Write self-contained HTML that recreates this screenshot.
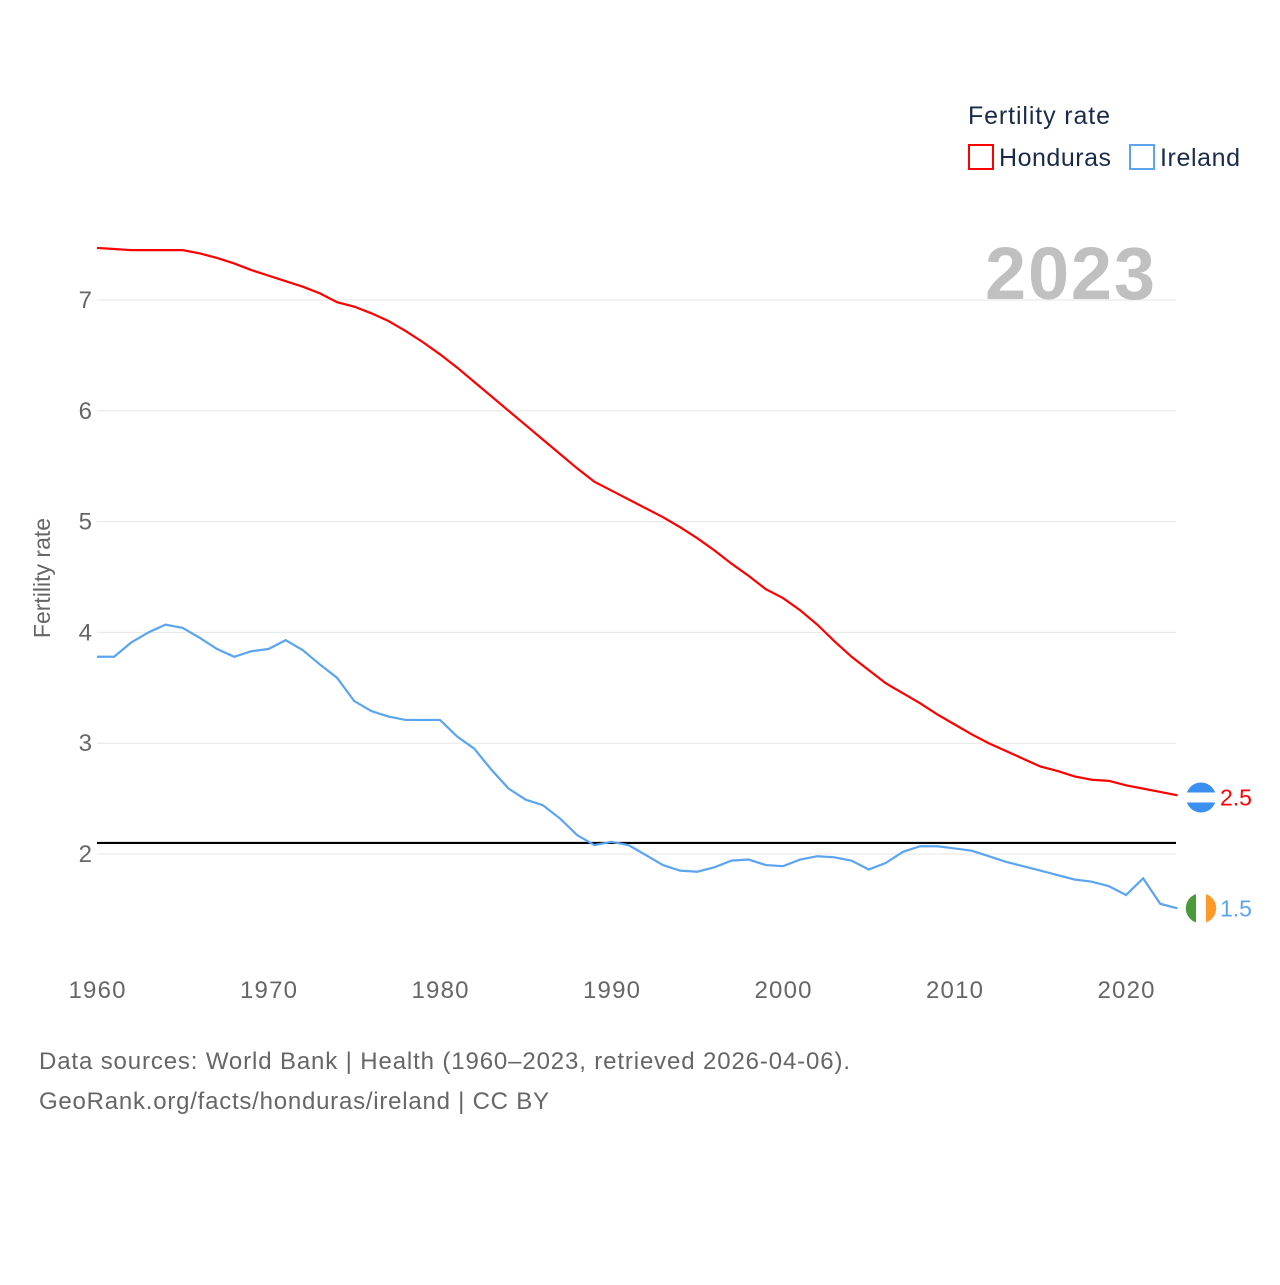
<!DOCTYPE html>
<html><head><meta charset="utf-8"><style>
body{margin:0;background:#fff;width:1280px;height:1280px;overflow:hidden;font-family:"Liberation Sans",sans-serif}
</style></head><body>
<svg id="chart" width="1280" height="1280" xmlns="http://www.w3.org/2000/svg" font-family="Liberation Sans, sans-serif">
<g id="grid"></g>
<g id="yticks"></g>
<g id="xticks"></g>
<text x="1155" y="299" text-anchor="end" font-size="74" font-weight="bold" fill="#c0c0c0" textLength="170">2023</text>
<text transform="translate(50,578) rotate(-90)" text-anchor="middle" font-size="23" fill="#666">Fertility rate</text>
<g id="series"></g>
<text x="968" y="124" font-size="25" fill="#1a2b4a" textLength="142">Fertility rate</text>
<g><rect x="969" y="145" width="24" height="24" fill="none" stroke="#f00" stroke-width="2"/><text x="999" y="166" font-size="25" fill="#1a2b4a" textLength="112">Honduras</text></g>
<g><rect x="1130" y="145" width="24" height="24" fill="none" stroke="#5ba4f0" stroke-width="2"/><text x="1160" y="166" font-size="25" fill="#1a2b4a" textLength="80">Ireland</text></g>
<text x="39" y="1069" font-size="24" fill="#666" textLength="811">Data sources: World Bank | Health (1960–2023, retrieved 2026-04-06).</text>
<text x="39" y="1109" font-size="24" fill="#666" textLength="510">GeoRank.org/facts/honduras/ireland | CC BY</text>
</svg>
<script>
const years=[];for(let y=1960;y<=2023;y++)years.push(y);
const honduras=[7.47,7.46,7.45,7.45,7.45,7.45,7.42,7.38,7.33,7.27,7.22,7.17,7.12,7.06,6.98,6.94,6.88,6.81,6.72,6.62,6.51,6.39,6.26,6.13,6.00,5.87,5.74,5.61,5.48,5.36,5.28,5.20,5.12,5.04,4.95,4.85,4.74,4.62,4.51,4.39,4.31,4.20,4.07,3.92,3.78,3.66,3.54,3.45,3.36,3.26,3.17,3.08,3.00,2.93,2.86,2.79,2.75,2.70,2.67,2.66,2.62,2.59,2.56,2.53,2.51];
const ireland=[3.78,3.78,3.91,4.00,4.07,4.04,3.95,3.85,3.78,3.83,3.85,3.93,3.84,3.71,3.59,3.38,3.29,3.24,3.21,3.21,3.21,3.06,2.95,2.76,2.59,2.49,2.44,2.32,2.17,2.08,2.11,2.08,1.99,1.90,1.85,1.84,1.88,1.94,1.95,1.90,1.89,1.95,1.98,1.97,1.94,1.86,1.92,2.02,2.07,2.07,2.05,2.03,1.98,1.93,1.89,1.85,1.81,1.77,1.75,1.71,1.63,1.78,1.55,1.51];
const yTicks=[2,3,4,5,6,7];
const xTicks=[1960,1970,1980,1990,2000,2010,2020];
const replacement=2.1;
const NS="http://www.w3.org/2000/svg";
const X=y=>97+(y-1960)*(1126-97)/60;
const Y=v=>854-(v-2)*(854-300)/5;
function mk(t,a,p){const e=document.createElementNS(NS,t);for(const k in a)e.setAttribute(k,a[k]);p.appendChild(e);return e;}
const grid=document.getElementById('grid'),yt=document.getElementById('yticks'),xt=document.getElementById('xticks'),sr=document.getElementById('series');
yTicks.forEach(v=>{
 const l=mk('line',{x1:97,x2:1176,y1:Y(v),y2:Y(v),stroke:'#e6e6e6','stroke-width':1},grid);
 
 
 const t=mk('text',{x:92,y:Y(v)+8,'text-anchor':'end','font-size':24,fill:'#666'},yt);t.textContent=v;
 
 
});
xTicks.forEach(v=>{
 const t=mk('text',{x:X(v),y:998,'text-anchor':'middle','font-size':24,fill:'#666',textLength:57},xt);t.textContent=v;
 
 
});
const rl=mk('line',{x1:97,x2:1176,y1:Y(replacement),y2:Y(replacement),stroke:'#000','stroke-width':2.2},sr);


function line(d,c,name){
 const p=mk('polyline',{points:d.map((v,i)=>X(years[i])+','+Y(v)).join(' '),fill:'none',stroke:c,'stroke-width':2.2},sr);
 
 
}
line(honduras,'#f00','honduras-line');
line(ireland,'#5ba4f0','ireland-line');
const hv=honduras[honduras.length-1],iv=ireland[ireland.length-1];
const hg=mk('g',{},sr);


mk('circle',{cx:1201,cy:Y(hv),r:15,fill:'#3b8ff0'},hg);
mk('rect',{x:1186,y:Y(hv)-5,width:30,height:10,fill:'#fff'},hg);
const ht=mk('text',{x:1220,y:Y(hv)+8,'font-size':23,fill:'#f00'},sr);ht.textContent=hv.toFixed(1);


const ig=mk('g',{},sr);


mk('circle',{cx:1201,cy:Y(iv),r:15,fill:'#fff'},ig);
mk('path',{d:`M1196,${Y(iv)-14.2} A15,15 0 0 0 1196,${Y(iv)+14.2} Z`,fill:'#4a9a3a'},ig);
mk('path',{d:`M1206,${Y(iv)-14.2} A15,15 0 0 1 1206,${Y(iv)+14.2} Z`,fill:'#ff9a2a'},ig);
const it=mk('text',{x:1220,y:Y(iv)+8,'font-size':23,fill:'#5ba4f0'},sr);it.textContent=iv.toFixed(1);


</script>
</body></html>
